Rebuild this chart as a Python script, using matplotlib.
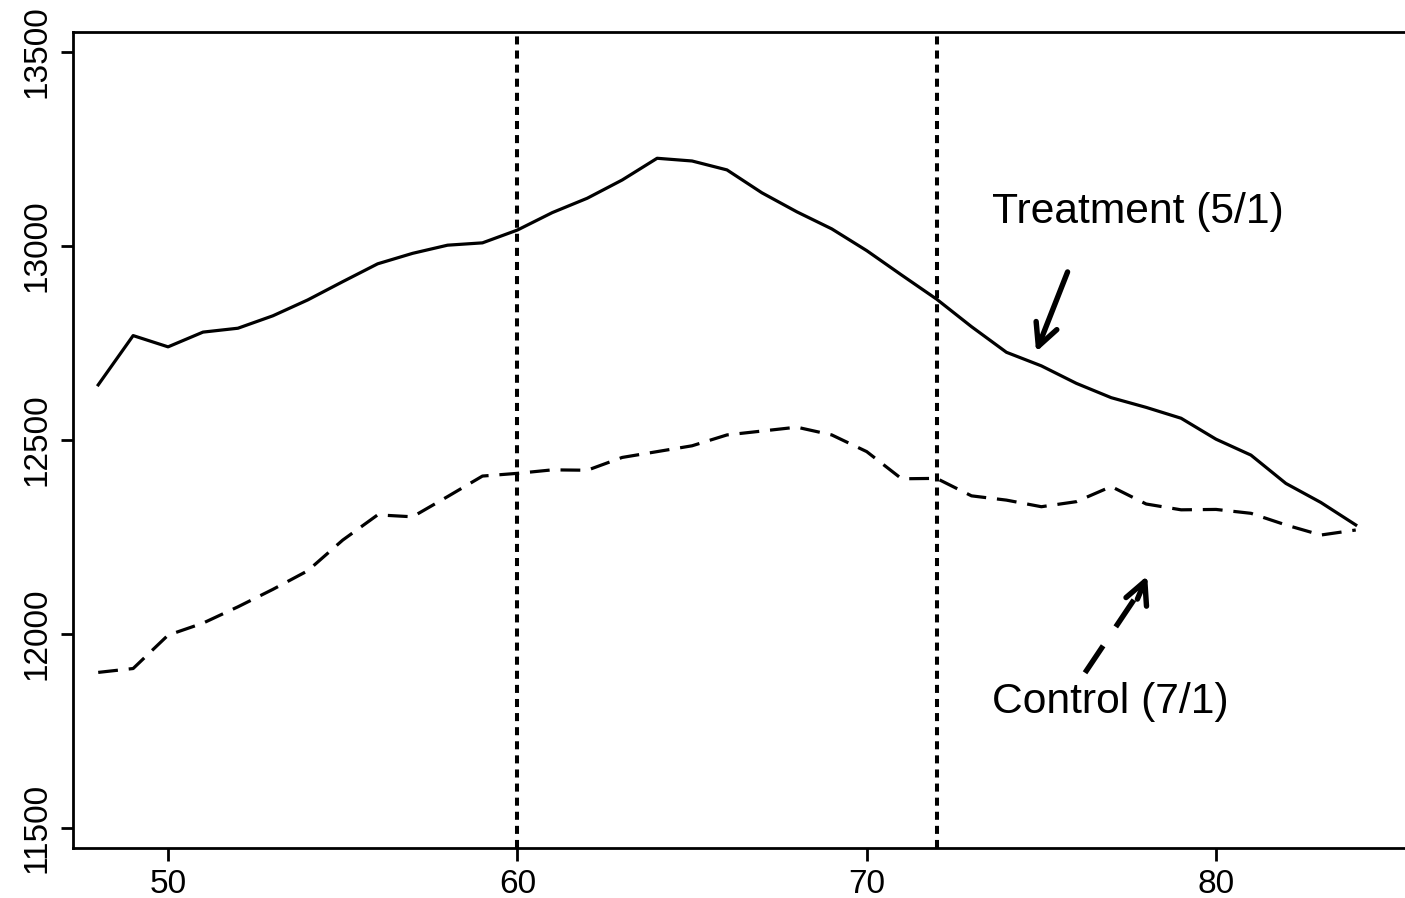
import matplotlib.pyplot as plt

# data
age = list(range(48, 85))
treatment = [12642, 12769, 12740, 12778, 12788, 12820, 12861, 12908, 12954, 12981,
             13002, 13008, 13041, 13086, 13123, 13170, 13226, 13219, 13196, 13137,
             13088, 13044, 12988, 12925, 12863, 12792, 12726, 12691, 12646, 12609,
             12584, 12556, 12502, 12461, 12388, 12339, 12281]
control = [11901, 11911, 11997, 12028, 12070, 12115, 12163, 12242, 12307, 12302,
           12354, 12407, 12414, 12423, 12422, 12455, 12470, 12485, 12513, 12523,
           12533, 12513, 12470, 12400, 12401, 12356, 12345, 12328, 12341, 12380,
           12335, 12320, 12321, 12311, 12281, 12255, 12268]
cutoffs = [60, 72]
x_ticks = [50, 60, 70, 80]
y_ticks = [11500, 12000, 12500, 13000, 13500]

plt.rcParams["font.family"] = ["Liberation Sans", "DejaVu Sans"]

fig = plt.figure(figsize=(14.05, 8.98), dpi=100)
ax = fig.add_axes([0.052, 0.0557, 0.948, 0.9087])

ax.plot(age, treatment, color="black", lw=2.3)
ax.plot(age, control, color="black", lw=2.3, linestyle=(0, (6.2, 3.4)))
for c in cutoffs:
    ax.axvline(c, color="black", lw=2.9, linestyle=(0, (2.0, 1.5)))

# labels with arrows
ax.annotate("", xy=(74.85, 12727), xytext=(75.75, 12933),
            arrowprops=dict(arrowstyle="->,head_length=0.8,head_width=0.4",
                            color="black", lw=3.9, mutation_scale=20,
                            shrinkA=0, shrinkB=0))
ax.plot([76.25, 77.85], [11900, 12115], color="black", lw=3.9,
        linestyle=(0, (6.0, 4.2)))
ax.annotate("", xy=(78.03, 12150), xytext=(77.75, 12090),
            arrowprops=dict(arrowstyle="->,head_length=0.8,head_width=0.4",
                            color="black", lw=3.9, mutation_scale=20,
                            shrinkA=0, shrinkB=0))
ax.text(73.59, 13088, "Treatment (5/1)", fontsize=30.7, va="center", ha="left")
ax.text(73.59, 11825, "Control (7/1)", fontsize=30.7, va="center", ha="left")

ax.set_xlim(47.28, 85.41)
ax.set_ylim(11448.5, 13551.5)
ax.set_xticks(x_ticks)
ax.set_yticks(y_ticks)
ax.set_yticklabels([str(v) for v in y_ticks], rotation=90, va="center")
ax.tick_params(axis="both", direction="out", length=9, width=2, labelsize=24, pad=6)
for side in ["left", "top", "bottom"]:
    ax.spines[side].set_linewidth(2)
ax.spines["right"].set_visible(False)

fig.savefig("out.png", dpi=100)
